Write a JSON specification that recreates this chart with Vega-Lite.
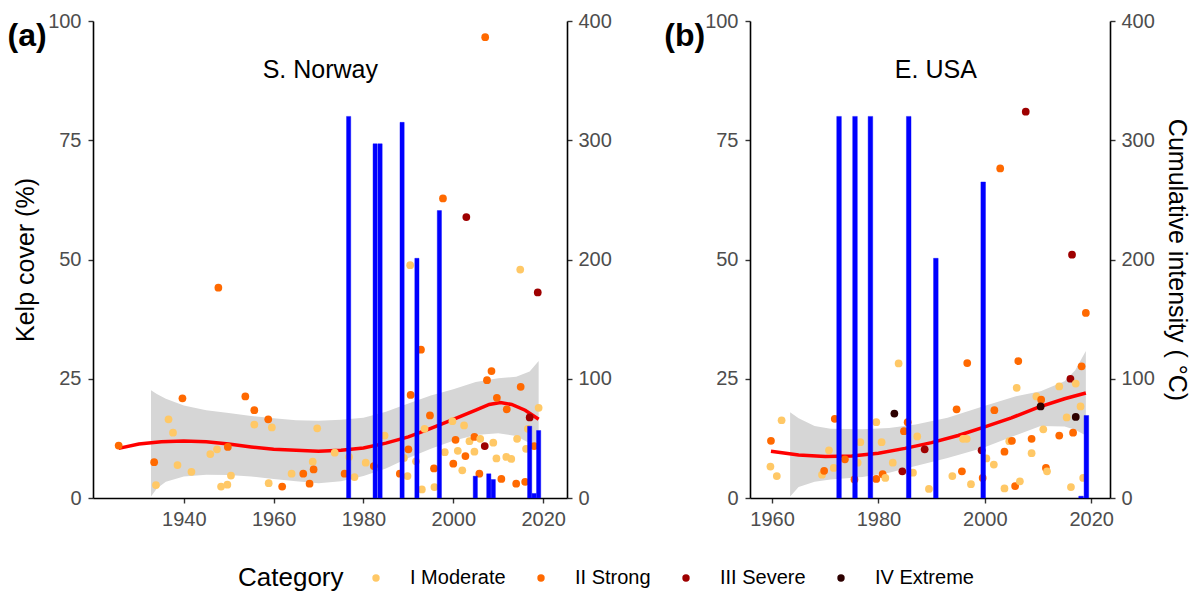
{
  "$schema": "https://vega.github.io/schema/vega-lite/v6.json",
  "background": "white",
  "padding": {"left": 7, "top": 11, "right": 5, "bottom": 5},
  "bounds": "flush",
  "spacing": 183,
  "config": {
    "font": "Liberation Sans",
    "view": {"stroke": null},
    "axis": {
      "grid": false,
      "labelFont": "Liberation Sans",
      "labelFontSize": 20,
      "labelColor": "#4D4D4D",
      "labelFlush": false,
      "labelOverlap": false,
      "domainColor": "#000000",
      "domainWidth": 1.6,
      "tickColor": "#333333",
      "tickWidth": 1.4,
      "tickSize": 5,
      "labelPadding": 6,
      "titleFont": "Liberation Sans",
      "titleFontSize": 25,
      "titleFontWeight": "normal",
      "titleColor": "#000000",
      "titlePadding": 9
    }
  },
  "datasets": {
    "ptsA": [
      {"year": 1925.5, "cover": 11.0, "category": "II Strong"},
      {"year": 1933.4, "cover": 7.5, "category": "II Strong"},
      {"year": 1933.8, "cover": 2.7, "category": "I Moderate"},
      {"year": 1936.6, "cover": 16.5, "category": "I Moderate"},
      {"year": 1937.6, "cover": 13.7, "category": "I Moderate"},
      {"year": 1938.6, "cover": 6.9, "category": "I Moderate"},
      {"year": 1939.7, "cover": 20.9, "category": "II Strong"},
      {"year": 1941.7, "cover": 5.5, "category": "I Moderate"},
      {"year": 1945.9, "cover": 9.2, "category": "I Moderate"},
      {"year": 1947.4, "cover": 10.2, "category": "I Moderate"},
      {"year": 1947.7, "cover": 44.1, "category": "II Strong"},
      {"year": 1948.3, "cover": 2.4, "category": "I Moderate"},
      {"year": 1949.7, "cover": 2.8, "category": "I Moderate"},
      {"year": 1949.8, "cover": 10.7, "category": "II Strong"},
      {"year": 1950.5, "cover": 4.7, "category": "I Moderate"},
      {"year": 1953.7, "cover": 21.3, "category": "II Strong"},
      {"year": 1955.7, "cover": 18.4, "category": "II Strong"},
      {"year": 1955.7, "cover": 15.4, "category": "I Moderate"},
      {"year": 1958.8, "cover": 16.5, "category": "II Strong"},
      {"year": 1959.6, "cover": 14.8, "category": "I Moderate"},
      {"year": 1958.9, "cover": 3.1, "category": "I Moderate"},
      {"year": 1961.9, "cover": 2.4, "category": "II Strong"},
      {"year": 1964.0, "cover": 5.1, "category": "I Moderate"},
      {"year": 1966.6, "cover": 5.1, "category": "II Strong"},
      {"year": 1968.0, "cover": 3.0, "category": "II Strong"},
      {"year": 1968.7, "cover": 7.6, "category": "I Moderate"},
      {"year": 1968.9, "cover": 6.0, "category": "II Strong"},
      {"year": 1969.7, "cover": 14.6, "category": "I Moderate"},
      {"year": 1973.6, "cover": 9.5, "category": "I Moderate"},
      {"year": 1975.8, "cover": 5.1, "category": "II Strong"},
      {"year": 1976.8, "cover": 8.6, "category": "I Moderate"},
      {"year": 1978.0, "cover": 4.4, "category": "I Moderate"},
      {"year": 1980.5, "cover": 7.4, "category": "I Moderate"},
      {"year": 1982.3, "cover": 6.7, "category": "II Strong"},
      {"year": 1984.7, "cover": 13.1, "category": "I Moderate"},
      {"year": 1988.1, "cover": 5.1, "category": "II Strong"},
      {"year": 1989.0, "cover": 8.4, "category": "I Moderate"},
      {"year": 1990.0, "cover": 10.2, "category": "II Strong"},
      {"year": 1989.8, "cover": 4.6, "category": "I Moderate"},
      {"year": 1990.5, "cover": 21.6, "category": "II Strong"},
      {"year": 1990.4, "cover": 48.8, "category": "I Moderate"},
      {"year": 1991.7, "cover": 7.7, "category": "I Moderate"},
      {"year": 1992.8, "cover": 31.1, "category": "II Strong"},
      {"year": 1993.0, "cover": 1.8, "category": "I Moderate"},
      {"year": 1993.6, "cover": 14.5, "category": "I Moderate"},
      {"year": 1994.8, "cover": 17.3, "category": "II Strong"},
      {"year": 1995.7, "cover": 6.2, "category": "II Strong"},
      {"year": 1995.8, "cover": 2.3, "category": "I Moderate"},
      {"year": 1997.7, "cover": 62.8, "category": "II Strong"},
      {"year": 1998.1, "cover": 9.6, "category": "I Moderate"},
      {"year": 1999.8, "cover": 16.1, "category": "I Moderate"},
      {"year": 2000.0, "cover": 7.2, "category": "II Strong"},
      {"year": 2000.5, "cover": 12.2, "category": "II Strong"},
      {"year": 2001.0, "cover": 9.9, "category": "I Moderate"},
      {"year": 2002.0, "cover": 5.8, "category": "I Moderate"},
      {"year": 2002.4, "cover": 15.2, "category": "I Moderate"},
      {"year": 2002.7, "cover": 8.8, "category": "II Strong"},
      {"year": 2002.9, "cover": 58.9, "category": "III Severe"},
      {"year": 2003.6, "cover": 11.9, "category": "I Moderate"},
      {"year": 2004.7, "cover": 12.8, "category": "II Strong"},
      {"year": 2004.7, "cover": 9.7, "category": "I Moderate"},
      {"year": 2005.8, "cover": 5.1, "category": "II Strong"},
      {"year": 2006.0, "cover": 12.4, "category": "I Moderate"},
      {"year": 2007.0, "cover": 10.9, "category": "III Severe"},
      {"year": 2007.1, "cover": 96.6, "category": "II Strong"},
      {"year": 2007.5, "cover": 24.7, "category": "II Strong"},
      {"year": 2008.5, "cover": 26.6, "category": "II Strong"},
      {"year": 2008.9, "cover": 11.6, "category": "I Moderate"},
      {"year": 2009.6, "cover": 8.3, "category": "I Moderate"},
      {"year": 2009.7, "cover": 21.0, "category": "II Strong"},
      {"year": 2010.7, "cover": 4.0, "category": "II Strong"},
      {"year": 2011.8, "cover": 8.6, "category": "I Moderate"},
      {"year": 2011.9, "cover": 18.6, "category": "II Strong"},
      {"year": 2012.9, "cover": 8.2, "category": "I Moderate"},
      {"year": 2014.0, "cover": 3.0, "category": "II Strong"},
      {"year": 2014.2, "cover": 12.4, "category": "I Moderate"},
      {"year": 2014.9, "cover": 47.9, "category": "I Moderate"},
      {"year": 2015.0, "cover": 23.3, "category": "II Strong"},
      {"year": 2016.0, "cover": 3.4, "category": "II Strong"},
      {"year": 2016.2, "cover": 10.3, "category": "I Moderate"},
      {"year": 2016.6, "cover": 14.5, "category": "I Moderate"},
      {"year": 2017.0, "cover": 16.9, "category": "III Severe"},
      {"year": 2018.0, "cover": 10.9, "category": "II Strong"},
      {"year": 2018.8, "cover": 43.1, "category": "III Severe"},
      {"year": 2019.0, "cover": 18.9, "category": "I Moderate"}
    ],
    "ptsB": [
      {"year": 1959.8, "cover": 12.0, "category": "II Strong"},
      {"year": 1959.7, "cover": 6.6, "category": "I Moderate"},
      {"year": 1960.9, "cover": 4.6, "category": "I Moderate"},
      {"year": 1961.8, "cover": 16.3, "category": "I Moderate"},
      {"year": 1969.4, "cover": 4.9, "category": "I Moderate"},
      {"year": 1969.8, "cover": 5.7, "category": "II Strong"},
      {"year": 1970.7, "cover": 10.0, "category": "I Moderate"},
      {"year": 1971.6, "cover": 6.3, "category": "I Moderate"},
      {"year": 1971.8, "cover": 16.6, "category": "II Strong"},
      {"year": 1973.7, "cover": 8.1, "category": "II Strong"},
      {"year": 1975.5, "cover": 3.9, "category": "II Strong"},
      {"year": 1976.1, "cover": 7.4, "category": "I Moderate"},
      {"year": 1976.6, "cover": 11.7, "category": "I Moderate"},
      {"year": 1979.6, "cover": 15.9, "category": "I Moderate"},
      {"year": 1979.6, "cover": 4.0, "category": "II Strong"},
      {"year": 1980.6, "cover": 11.7, "category": "I Moderate"},
      {"year": 1980.8, "cover": 5.0, "category": "II Strong"},
      {"year": 1981.3, "cover": 4.2, "category": "I Moderate"},
      {"year": 1982.7, "cover": 7.4, "category": "I Moderate"},
      {"year": 1983.0, "cover": 17.7, "category": "IV Extreme"},
      {"year": 1983.8, "cover": 28.2, "category": "I Moderate"},
      {"year": 1984.5, "cover": 5.6, "category": "III Severe"},
      {"year": 1984.8, "cover": 14.0, "category": "II Strong"},
      {"year": 1985.5, "cover": 15.9, "category": "II Strong"},
      {"year": 1986.5, "cover": 5.3, "category": "I Moderate"},
      {"year": 1987.3, "cover": 12.9, "category": "I Moderate"},
      {"year": 1988.7, "cover": 10.2, "category": "III Severe"},
      {"year": 1989.5, "cover": 1.9, "category": "I Moderate"},
      {"year": 1993.9, "cover": 4.6, "category": "I Moderate"},
      {"year": 1994.7, "cover": 18.6, "category": "II Strong"},
      {"year": 1995.7, "cover": 5.6, "category": "II Strong"},
      {"year": 1995.9, "cover": 12.4, "category": "I Moderate"},
      {"year": 1996.6, "cover": 12.4, "category": "I Moderate"},
      {"year": 1996.7, "cover": 28.3, "category": "II Strong"},
      {"year": 1997.4, "cover": 2.9, "category": "I Moderate"},
      {"year": 1999.4, "cover": 10.0, "category": "III Severe"},
      {"year": 1999.6, "cover": 4.2, "category": "II Strong"},
      {"year": 2000.3, "cover": 8.3, "category": "I Moderate"},
      {"year": 2001.8, "cover": 18.4, "category": "II Strong"},
      {"year": 2001.7, "cover": 7.0, "category": "I Moderate"},
      {"year": 2002.9, "cover": 69.1, "category": "II Strong"},
      {"year": 2003.7, "cover": 9.7, "category": "II Strong"},
      {"year": 2003.7, "cover": 2.0, "category": "I Moderate"},
      {"year": 2004.6, "cover": 11.9, "category": "I Moderate"},
      {"year": 2005.1, "cover": 12.0, "category": "II Strong"},
      {"year": 2005.7, "cover": 2.5, "category": "II Strong"},
      {"year": 2006.0, "cover": 23.1, "category": "I Moderate"},
      {"year": 2006.3, "cover": 28.7, "category": "II Strong"},
      {"year": 2006.6, "cover": 3.5, "category": "I Moderate"},
      {"year": 2007.7, "cover": 81.0, "category": "III Severe"},
      {"year": 2008.8, "cover": 12.4, "category": "II Strong"},
      {"year": 2008.8, "cover": 9.4, "category": "I Moderate"},
      {"year": 2009.7, "cover": 21.3, "category": "I Moderate"},
      {"year": 2010.6, "cover": 20.6, "category": "II Strong"},
      {"year": 2010.5, "cover": 19.2, "category": "IV Extreme"},
      {"year": 2011.0, "cover": 14.4, "category": "I Moderate"},
      {"year": 2011.5, "cover": 6.3, "category": "II Strong"},
      {"year": 2011.7, "cover": 5.6, "category": "I Moderate"},
      {"year": 2014.0, "cover": 23.4, "category": "I Moderate"},
      {"year": 2014.0, "cover": 13.1, "category": "II Strong"},
      {"year": 2015.4, "cover": 16.9, "category": "I Moderate"},
      {"year": 2016.1, "cover": 25.0, "category": "III Severe"},
      {"year": 2016.2, "cover": 2.3, "category": "I Moderate"},
      {"year": 2016.4, "cover": 51.0, "category": "III Severe"},
      {"year": 2016.6, "cover": 13.7, "category": "II Strong"},
      {"year": 2017.1, "cover": 17.0, "category": "IV Extreme"},
      {"year": 2017.1, "cover": 24.0, "category": "I Moderate"},
      {"year": 2018.2, "cover": 27.6, "category": "II Strong"},
      {"year": 2018.0, "cover": 19.2, "category": "I Moderate"},
      {"year": 2018.5, "cover": 4.2, "category": "I Moderate"},
      {"year": 2019.0, "cover": 38.8, "category": "II Strong"}
    ],
    "barsA": [
      {"year": 1976.7, "intensity": 320},
      {"year": 1982.6, "intensity": 297},
      {"year": 1983.7, "intensity": 297},
      {"year": 1988.6, "intensity": 315},
      {"year": 1991.9, "intensity": 201},
      {"year": 1996.9, "intensity": 241},
      {"year": 2004.9, "intensity": 18.3},
      {"year": 2007.9, "intensity": 20.3},
      {"year": 2008.9, "intensity": 15.5},
      {"year": 2017.0, "intensity": 60.2},
      {"year": 2018.0, "intensity": 3.8},
      {"year": 2019.0, "intensity": 56.6}
    ],
    "barsB": [
      {"year": 1972.6, "intensity": 320},
      {"year": 1975.6, "intensity": 320},
      {"year": 1978.5, "intensity": 320},
      {"year": 1985.7, "intensity": 320},
      {"year": 1990.8, "intensity": 201},
      {"year": 1999.7, "intensity": 265},
      {"year": 2018.1, "intensity": 1.5},
      {"year": 2019.1, "intensity": 69.2}
    ],
    "fitA": [
      {"year": 1925.5, "fit": 10.4},
      {"year": 1930, "fit": 11.3},
      {"year": 1935, "fit": 11.8},
      {"year": 1940, "fit": 11.95},
      {"year": 1945, "fit": 11.8},
      {"year": 1950, "fit": 11.3},
      {"year": 1955, "fit": 10.7},
      {"year": 1960, "fit": 10.2},
      {"year": 1965, "fit": 10.0},
      {"year": 1970, "fit": 9.8},
      {"year": 1975, "fit": 10.0},
      {"year": 1980, "fit": 10.5},
      {"year": 1985, "fit": 11.5},
      {"year": 1990, "fit": 12.8},
      {"year": 1995, "fit": 14.6},
      {"year": 2000, "fit": 16.5},
      {"year": 2005, "fit": 18.4},
      {"year": 2008, "fit": 19.6},
      {"year": 2010.5, "fit": 20.0},
      {"year": 2013, "fit": 19.6},
      {"year": 2016, "fit": 18.4},
      {"year": 2019, "fit": 16.5}
    ],
    "fitB": [
      {"year": 1959.8, "fit": 9.8},
      {"year": 1965, "fit": 9.0},
      {"year": 1970, "fit": 8.7},
      {"year": 1975, "fit": 8.8},
      {"year": 1980, "fit": 9.4},
      {"year": 1985, "fit": 10.4},
      {"year": 1990, "fit": 11.6},
      {"year": 1995, "fit": 13.1},
      {"year": 2000, "fit": 14.9},
      {"year": 2005, "fit": 16.8},
      {"year": 2010, "fit": 19.0},
      {"year": 2015, "fit": 20.8},
      {"year": 2019, "fit": 22.0}
    ],
    "bandA": [
      {"year": 1932.7, "lo": 0.3, "hi": 22.6},
      {"year": 1934, "lo": 2.0, "hi": 21.8},
      {"year": 1936, "lo": 3.4, "hi": 20.8},
      {"year": 1940, "lo": 4.5, "hi": 19.4},
      {"year": 1945, "lo": 4.9, "hi": 18.4},
      {"year": 1950, "lo": 4.8, "hi": 17.8},
      {"year": 1955, "lo": 4.5, "hi": 17.2},
      {"year": 1960, "lo": 4.0, "hi": 16.7},
      {"year": 1965, "lo": 3.5, "hi": 16.3},
      {"year": 1970, "lo": 3.1, "hi": 16.2},
      {"year": 1975, "lo": 3.5, "hi": 16.4},
      {"year": 1980, "lo": 4.6, "hi": 16.8},
      {"year": 1985, "lo": 6.2, "hi": 18.1},
      {"year": 1990, "lo": 8.4, "hi": 19.8},
      {"year": 1995, "lo": 10.3, "hi": 21.5},
      {"year": 2000, "lo": 12.0, "hi": 22.8},
      {"year": 2005, "lo": 13.2, "hi": 24.3},
      {"year": 2010, "lo": 13.6, "hi": 25.1},
      {"year": 2014, "lo": 13.0, "hi": 25.4},
      {"year": 2017, "lo": 11.5, "hi": 26.5},
      {"year": 2019, "lo": 9.8, "hi": 28.7}
    ],
    "bandB": [
      {"year": 1963.4, "lo": 0.3, "hi": 18.0},
      {"year": 1965, "lo": 2.3, "hi": 16.7},
      {"year": 1968, "lo": 3.4, "hi": 15.1},
      {"year": 1971, "lo": 3.9, "hi": 14.5},
      {"year": 1977, "lo": 4.4, "hi": 14.4},
      {"year": 1982, "lo": 5.3, "hi": 14.7},
      {"year": 1987, "lo": 6.7, "hi": 15.4},
      {"year": 1993, "lo": 8.4, "hi": 16.8},
      {"year": 1999.6, "lo": 10.5, "hi": 19.2},
      {"year": 2005.7, "lo": 13.1, "hi": 21.3},
      {"year": 2010.5, "lo": 15.1, "hi": 22.4},
      {"year": 2015, "lo": 15.0, "hi": 24.5},
      {"year": 2017, "lo": 14.3, "hi": 26.8},
      {"year": 2019, "lo": 13.1, "hi": 30.8}
    ]
  },
  "hconcat": [
    {
      "width": 474,
      "height": 477,
      "layer": [
        {
          "layer": [
            {
              "data": {"name": "bandA"},
              "mark": {"type": "area", "color": "#D6D6D6", "opacity": 1},
              "encoding": {
                "x": {"field": "year", "type": "quantitative", "scale": {"domain": [1920.9, 2024.2], "nice": false, "zero": false}, "axis": {"values": [1940, 1960, 1980, 2000, 2020], "format": "d", "title": null}},
                "y": {"field": "lo", "type": "quantitative", "scale": {"domain": [0, 100], "nice": false}, "axis": {"orient": "left", "values": [0, 25, 50, 75, 100], "title": "Kelp cover (%)", "labelPadding": 7}},
                "y2": {"field": "hi"}
              }
            },
            {
              "data": {"name": "fitA"},
              "mark": {"type": "line", "color": "#FF0000", "strokeWidth": 3.5},
              "encoding": {
                "x": {"field": "year", "type": "quantitative", "scale": {"domain": [1920.9, 2024.2], "nice": false, "zero": false}, "title": null},
                "y": {"field": "fit", "type": "quantitative", "scale": {"domain": [0, 100], "nice": false}, "title": "Kelp cover (%)"}
              }
            },
            {
              "data": {"name": "ptsA"},
              "mark": {"type": "circle", "size": 60, "opacity": 1},
              "encoding": {
                "x": {"field": "year", "type": "quantitative", "scale": {"domain": [1920.9, 2024.2], "nice": false, "zero": false}, "title": null},
                "y": {"field": "cover", "type": "quantitative", "scale": {"domain": [0, 100], "nice": false}, "title": "Kelp cover (%)"},
                "color": {
                  "field": "category", "type": "nominal",
                  "scale": {"domain": ["I Moderate", "II Strong", "III Severe", "IV Extreme"], "range": ["#FFC866", "#FF6900", "#9E0000", "#2D0000"]},
                  "legend": {
                    "title": "Category", "orient": "none", "legendX": 145, "legendY": 547,
                    "direction": "horizontal", "titleOrient": "left",
                    "titleFont": "Liberation Sans", "titleFontSize": 26, "titleFontWeight": "normal", "titleColor": "#000000", "titlePadding": 22,
                    "labelFont": "Liberation Sans", "labelFontSize": 20, "labelColor": "#000000", "labelOffset": 24,
                    "columnPadding": 25, "symbolSize": 55, "symbolType": "circle", "symbolStrokeWidth": 0, "symbolOpacity": 1
                  }
                }
              }
            },
            {
              "data": {"values": [{"label": "S. Norway"}]},
              "mark": {"type": "text", "font": "Liberation Sans", "fontSize": 25, "align": "center", "baseline": "alphabetic", "color": "#000000"},
              "encoding": {
                "x": {"datum": 1970.4, "type": "quantitative", "scale": {"domain": [1920.9, 2024.2], "nice": false, "zero": false}},
                "y": {"datum": 88, "type": "quantitative", "scale": {"domain": [0, 100], "nice": false}},
                "text": {"field": "label"}
              }
            },
            {
              "data": {"values": [{"label": "(a)"}]},
              "mark": {"type": "text", "font": "Liberation Sans", "fontSize": 32, "fontWeight": "bold", "align": "left", "baseline": "alphabetic", "color": "#000000"},
              "encoding": {
                "x": {"datum": 1900.76, "type": "quantitative", "scale": {"domain": [1920.9, 2024.2], "nice": false, "zero": false}},
                "y": {"datum": 94.7, "type": "quantitative", "scale": {"domain": [0, 100], "nice": false}},
                "text": {"field": "label"}
              }
            }
          ]
        },
        {
          "data": {"name": "barsA"},
          "mark": {"type": "bar", "width": 4.2, "color": "#0000FF", "stroke": "#0000FF", "strokeOpacity": 0.4, "strokeWidth": 1},
          "encoding": {
            "x": {"field": "year", "type": "quantitative", "scale": {"domain": [1920.9, 2024.2], "nice": false, "zero": false}, "title": null},
            "y": {"field": "intensity", "type": "quantitative", "scale": {"domain": [0, 400], "nice": false}, "axis": {"orient": "right", "values": [0, 100, 200, 300, 400], "title": null}}
          }
        }
      ],
      "resolve": {"scale": {"y": "independent"}, "axis": {"y": "independent"}}
    },
    {
      "width": 360,
      "height": 477,
      "layer": [
        {
          "layer": [
            {
              "data": {"name": "bandB"},
              "mark": {"type": "area", "color": "#D6D6D6", "opacity": 1},
              "encoding": {
                "x": {"field": "year", "type": "quantitative", "scale": {"domain": [1956.8, 2022.6], "nice": false, "zero": false}, "axis": {"values": [1960, 1980, 2000, 2020], "format": "d", "title": null}},
                "y": {"field": "lo", "type": "quantitative", "scale": {"domain": [0, 100], "nice": false}, "axis": {"orient": "left", "values": [0, 25, 50, 75, 100], "title": null, "labelPadding": 7}},
                "y2": {"field": "hi"}
              }
            },
            {
              "data": {"name": "fitB"},
              "mark": {"type": "line", "color": "#FF0000", "strokeWidth": 3.5},
              "encoding": {
                "x": {"field": "year", "type": "quantitative", "scale": {"domain": [1956.8, 2022.6], "nice": false, "zero": false}, "title": null},
                "y": {"field": "fit", "type": "quantitative", "scale": {"domain": [0, 100], "nice": false}, "title": null}
              }
            },
            {
              "data": {"name": "ptsB"},
              "mark": {"type": "circle", "size": 60, "opacity": 1},
              "encoding": {
                "x": {"field": "year", "type": "quantitative", "scale": {"domain": [1956.8, 2022.6], "nice": false, "zero": false}, "title": null},
                "y": {"field": "cover", "type": "quantitative", "scale": {"domain": [0, 100], "nice": false}, "title": null},
                "color": {
                  "field": "category", "type": "nominal",
                  "scale": {"domain": ["I Moderate", "II Strong", "III Severe", "IV Extreme"], "range": ["#FFC866", "#FF6900", "#9E0000", "#2D0000"]}
                }
              }
            },
            {
              "data": {"values": [{"label": "E. USA"}]},
              "mark": {"type": "text", "font": "Liberation Sans", "fontSize": 25, "align": "center", "baseline": "alphabetic", "color": "#000000"},
              "encoding": {
                "x": {"datum": 1990.8, "type": "quantitative", "scale": {"domain": [1956.8, 2022.6], "nice": false, "zero": false}},
                "y": {"datum": 88, "type": "quantitative", "scale": {"domain": [0, 100], "nice": false}},
                "text": {"field": "label"}
              }
            },
            {
              "data": {"values": [{"label": "(b)"}]},
              "mark": {"type": "text", "font": "Liberation Sans", "fontSize": 32, "fontWeight": "bold", "align": "left", "baseline": "alphabetic", "color": "#000000"},
              "encoding": {
                "x": {"datum": 1939.75, "type": "quantitative", "scale": {"domain": [1956.8, 2022.6], "nice": false, "zero": false}},
                "y": {"datum": 94.7, "type": "quantitative", "scale": {"domain": [0, 100], "nice": false}},
                "text": {"field": "label"}
              }
            }
          ]
        },
        {
          "data": {"name": "barsB"},
          "mark": {"type": "bar", "width": 4.6, "color": "#0000FF", "stroke": "#0000FF", "strokeOpacity": 0.4, "strokeWidth": 1},
          "encoding": {
            "x": {"field": "year", "type": "quantitative", "scale": {"domain": [1956.8, 2022.6], "nice": false, "zero": false}, "title": null},
            "y": {"field": "intensity", "type": "quantitative", "scale": {"domain": [0, 400], "nice": false}, "axis": {"orient": "right", "values": [0, 100, 200, 300, 400], "title": "Cumulative intensity ( °C)"}}
          }
        }
      ],
      "resolve": {"scale": {"y": "independent"}, "axis": {"y": "independent"}}
    }
  ],
  "resolve": {"scale": {"color": "shared"}, "legend": {"color": "shared"}}
}
